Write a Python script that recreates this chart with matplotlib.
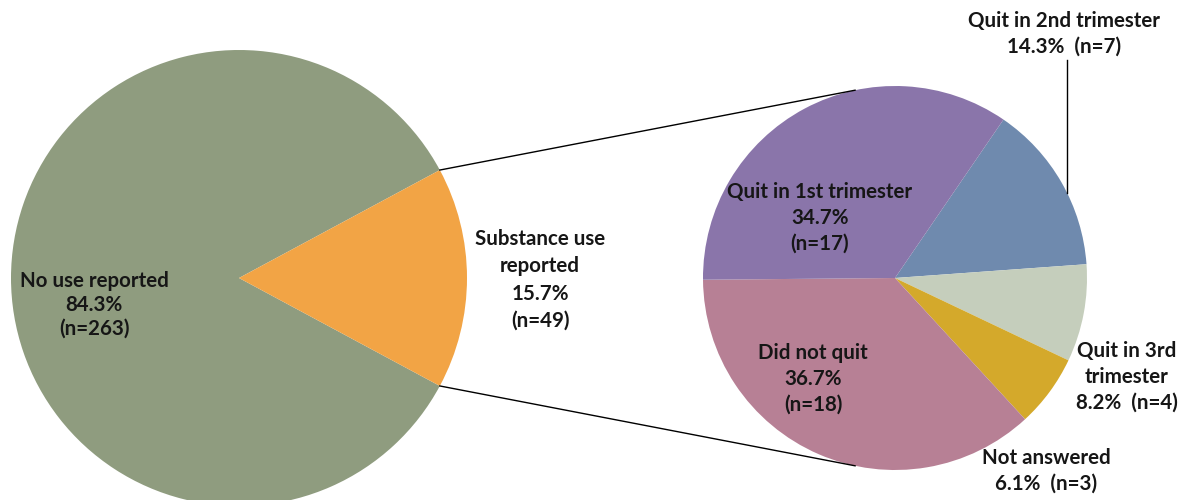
"""
Pie-of-pie: substance use reported during pregnancy, with the
breakdown of the users' quitting timing on the right.
"""

import numpy as np
import matplotlib
matplotlib.use("Agg")
import matplotlib.pyplot as plt

plt.rcParams["font.family"] = ["Lato", "DejaVu Sans"]

# main pie
main_labels = ["No use reported", "Substance use reported"]
main_pct = [84.3, 15.7]
main_n = [263, 49]
main_colors = ["#8F9C7F", "#F2A445"]

# breakdown pie (clockwise from the top-right)
sub_labels = ["Quit in 2nd trimester", "Quit in 3rd trimester", "Not answered",
              "Did not quit", "Quit in 1st trimester"]
sub_pct = [14.3, 8.2, 6.1, 36.7, 34.7]
sub_n = [7, 4, 3, 18, 17]
sub_colors = ["#6F8AAE", "#C5CEBC", "#D4A92B", "#B78095", "#8A75AA"]

W, H = 1188, 500
fig = plt.figure(figsize=(W / 100, H / 100), dpi=100)
ax = fig.add_axes([0, 0, 1, 1])

# pixel-like coordinates, y going up
c1, r1 = (239, H - 278), 228
c2, r2 = (895, H - 278), 192

# orange slice centred on the 3 o'clock direction
half = main_pct[1] / 100 * 360 / 2
ax.pie(main_pct, colors=main_colors, startangle=-half, counterclock=False,
       center=c1, radius=r1, frame=True, wedgeprops={"linewidth": 0})
ax.pie(sub_pct, colors=sub_colors, startangle=55.6, counterclock=False,
       center=c2, radius=r2, frame=True, wedgeprops={"linewidth": 0})

# connector lines from the small slice to the top/bottom of the second pie
for sgn in (1, -1):
    a = np.deg2rad(sgn * half)
    x0, y0 = c1[0] + r1 * np.cos(a), c1[1] + r1 * np.sin(a)
    b = np.deg2rad(sgn * 102)
    x1, y1 = c2[0] + r2 * np.cos(b), c2[1] + r2 * np.sin(b)
    ax.plot([x0, x1], [y0, y1], color="black", lw=1)

txt = dict(ha="center", va="center", fontsize=14.8, fontweight="bold",
           color="#161616", linespacing=1.35)

ax.text(94, H - 305, f"{main_labels[0]}\n{main_pct[0]}%\n(n={main_n[0]})",
        **{**txt, "linespacing": 1.25})
ax.text(540, H - 280, f"Substance use\nreported\n{main_pct[1]}%\n(n={main_n[1]})",
        **{**txt, "linespacing": 1.45})

ax.text(820, H - 218, f"{sub_labels[4]}\n{sub_pct[4]}%\n(n={sub_n[4]})", **txt)
ax.text(813, H - 379, f"{sub_labels[3]}\n{sub_pct[3]}%\n(n={sub_n[3]})", **txt)
ax.text(1064, H - 34, f"{sub_labels[0]}\n{sub_pct[0]}%  (n={sub_n[0]})", **txt)
ax.text(1127, H - 377, f"Quit in 3rd\ntrimester\n{sub_pct[1]}%  (n={sub_n[1]})", **txt)
ax.text(1046, H - 471, f"{sub_labels[2]}\n{sub_pct[2]}%  (n={sub_n[2]})", **txt)

# leader line for the 2nd trimester label
lx = 1067
ly = c2[1] + np.sqrt(r2 ** 2 - (lx - c2[0]) ** 2)
ax.plot([lx, lx], [H - 60, ly], color="black", lw=1)

ax.set_xlim(0, W)
ax.set_ylim(0, H)
ax.set_aspect("equal")
ax.axis("off")

fig.savefig("out.png", dpi=100, facecolor="white")
